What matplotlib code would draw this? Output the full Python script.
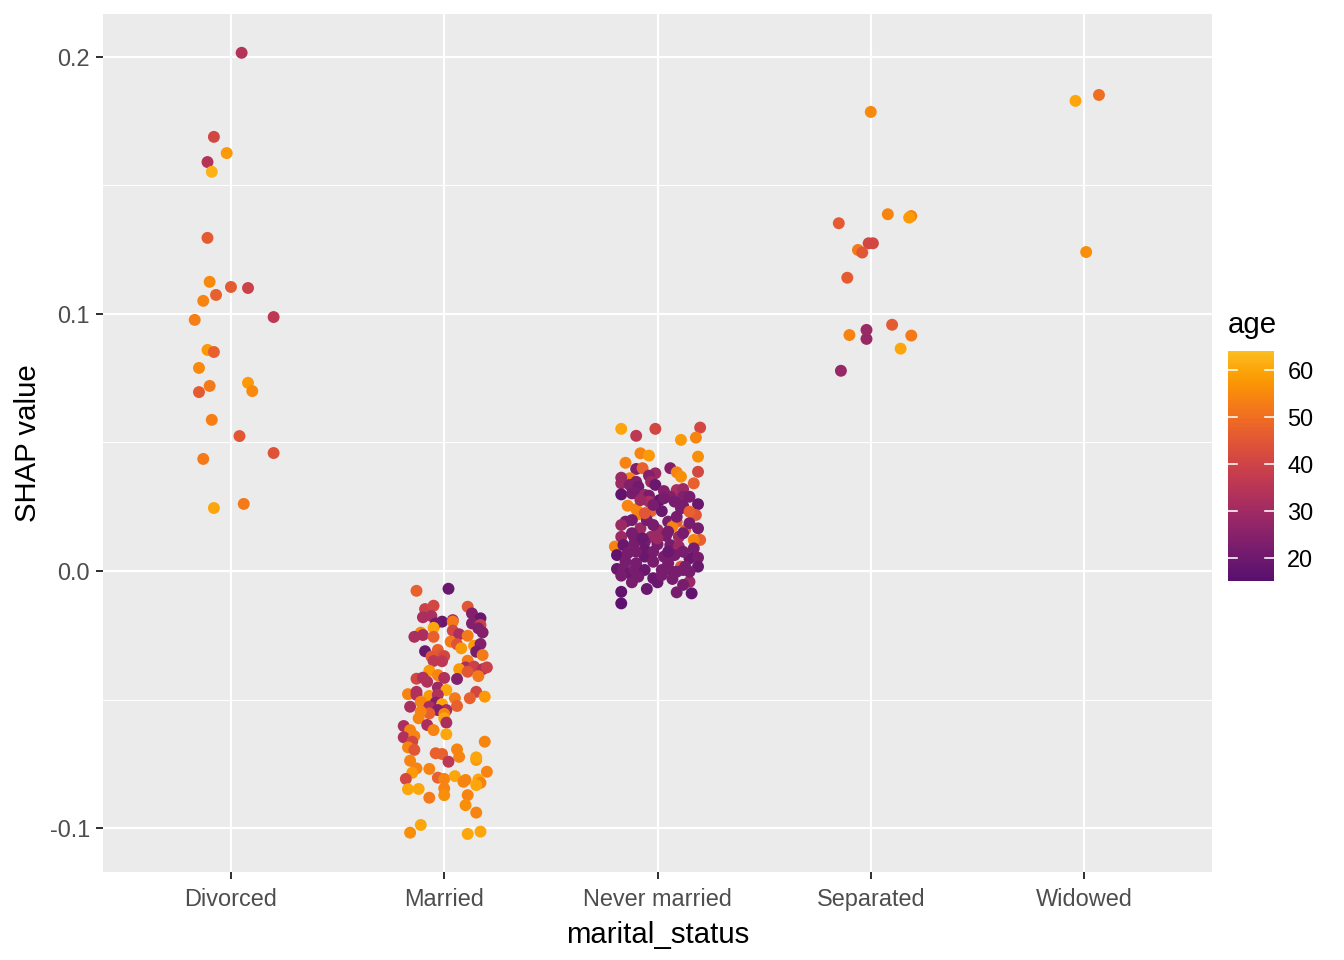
import numpy as np
import matplotlib.pyplot as plt
from matplotlib.colors import ListedColormap, Normalize

plt.rcParams['font.family'] = ['Liberation Sans', 'DejaVu Sans']

categories = ["Divorced", "Married", "Never married", "Separated", "Widowed"]
y_ticks = [-0.1, 0.0, 0.1, 0.2]
y_tick_labels = ["-0.1", "0.0", "0.1", "0.2"]
y_minor = [-0.05, 0.05, 0.15]
age_ticks = [20, 30, 40, 50, 60]
age_limits = [15, 64]

# values: SHAP value, horizontal jitter, age
divorced_shap = [0.2016, 0.1689, 0.1626, 0.1591, 0.1553, 0.1296, 0.1125, 0.1105, 0.1101, 0.1074,
                 0.1051, 0.0988, 0.0977, 0.0860, 0.0852, 0.0790, 0.0720, 0.0732, 0.0696, 0.0700,
                 0.0588, 0.0525, 0.0436, 0.0459, 0.0261, 0.0245]
divorced_jit = [0.05, -0.08, -0.02, -0.11, -0.09, -0.11, -0.10, 0.00, 0.08, -0.07,
                -0.13, 0.20, -0.17, -0.11, -0.08, -0.15, -0.10, 0.08, -0.15, 0.10,
                -0.09, 0.04, -0.13, 0.20, 0.06, -0.08]
divorced_age = [34, 41, 58, 34, 62, 46, 55, 46, 39, 47, 54, 36, 53, 58, 47, 55, 52, 58, 46, 55,
                53, 45, 52, 44, 52, 60]

married_shap = [-0.0077, -0.0069, -0.0148, -0.0135, -0.0139, -0.0180, -0.0175, -0.0197, -0.0204, -0.0191,
                -0.0197, -0.0165, -0.0184, -0.0204, -0.0210, -0.0223, -0.0239, -0.0221, -0.0240, -0.0256,
                -0.0249, -0.0256, -0.0232, -0.0246, -0.0252, -0.0275, -0.0285, -0.0301, -0.0291, -0.0284,
                -0.0314, -0.0327, -0.0312, -0.0307, -0.0333, -0.0327, -0.0331, -0.0350, -0.0351, -0.0349,
                -0.0375, -0.0372, -0.0382, -0.0392, -0.0382, -0.0375, -0.0388, -0.0405, -0.0409, -0.0419,
                -0.0415, -0.0431, -0.0416, -0.0420, -0.0453, -0.0463, -0.0479, -0.0470, -0.0482, -0.0486,
                -0.0482, -0.0470, -0.0495, -0.0489, -0.0495, -0.0509, -0.0512, -0.0518, -0.0528, -0.0528,
                -0.0525, -0.0541, -0.0541, -0.0554, -0.0547, -0.0556, -0.0573, -0.0573, -0.0590, -0.0599,
                -0.0603, -0.0619, -0.0619, -0.0647, -0.0642, -0.0635, -0.0664, -0.0686, -0.0696, -0.0664,
                -0.0694, -0.0723, -0.0709, -0.0712, -0.0742, -0.0735, -0.0725, -0.0738, -0.0768, -0.0785,
                -0.0770, -0.0781, -0.0809, -0.0804, -0.0809, -0.0798, -0.0820, -0.0813, -0.0811, -0.0824,
                -0.0833, -0.0849, -0.0848, -0.0846, -0.0872, -0.0872, -0.0882, -0.0911, -0.0940, -0.0988,
                -0.1018, -0.1023, -0.1014]
married_jit = [-0.13, 0.02, -0.09, -0.05, 0.11, -0.10, -0.06, -0.01, -0.04, 0.04,
               0.04, 0.13, 0.17, 0.13, 0.17, 0.16, 0.18, -0.05, -0.11, -0.14,
               -0.10, -0.05, 0.04, 0.07, 0.11, 0.03, 0.06, 0.08, 0.14, 0.17,
               0.15, 0.18, -0.09, -0.03, -0.06, -0.02, 0.00, -0.05, -0.01, 0.11,
               0.10, 0.14, 0.07, 0.11, 0.18, 0.20, -0.07, -0.03, 0.16, -0.13,
               -0.10, -0.08, 0.00, 0.06, -0.03, 0.01, -0.17, -0.13, -0.13, -0.07,
               -0.03, 0.15, 0.05, 0.19, 0.12, -0.11, -0.04, -0.01, -0.16, -0.07,
               0.06, 0.01, -0.03, -0.07, -0.11, 0.00, -0.12, 0.00, 0.01, -0.08,
               -0.19, -0.16, -0.05, -0.19, -0.14, 0.01, -0.15, -0.17, -0.14, 0.19,
               0.06, 0.07, -0.04, -0.01, 0.02, 0.15, 0.15, -0.16, -0.13, -0.15,
               -0.07, 0.20, -0.18, -0.03, 0.00, 0.05, 0.09, 0.10, 0.16, 0.17,
               0.15, -0.17, -0.12, 0.00, 0.00, 0.11, -0.07, 0.10, 0.15, -0.11,
               -0.16, 0.11, 0.17]
married_age = [47, 19, 39, 41, 45, 32, 32, 19, 21, 32,
               52, 24, 19, 24, 39, 24, 24, 60, 55, 32,
               32, 47, 41, 32, 52, 52, 44, 58, 58, 24,
               22, 52, 19, 47, 45, 45, 41, 36, 36, 52,
               32, 39, 58, 45, 33, 39, 58, 54, 52, 41,
               33, 33, 33, 24, 29, 60, 54, 33, 33, 58,
               33, 41, 52, 58, 47, 54, 24, 60, 32, 32,
               47, 32, 24, 47, 54, 54, 54, 60, 32, 32,
               32, 54, 54, 33, 54, 60, 41, 54, 45, 54,
               54, 54, 47, 47, 36, 58, 60, 54, 54, 58,
               54, 54, 41, 47, 54, 60, 54, 54, 60, 54,
               60, 60, 60, 54, 56, 54, 52, 56, 54, 60,
               56, 60, 60]

never_shap = [0.0553, 0.0526, 0.0553, 0.0558, 0.0510, 0.0519, 0.0458, 0.0449, 0.0421, 0.0445,
              0.0386, 0.0397, 0.0400, 0.0400, 0.0384, 0.0367, 0.0380, 0.0371, 0.0361, 0.0363,
              0.0341, 0.0335, 0.0347, 0.0328, 0.0347, 0.0335, 0.0341, 0.0311, 0.0315, 0.0319,
              0.0298, 0.0302, 0.0296, 0.0293, 0.0289, 0.0289, 0.0289, 0.0276, 0.0270, 0.0254,
              0.0254, 0.0260, 0.0241, 0.0221, 0.0233, 0.0233, 0.0244, 0.0218, 0.0231, 0.0192,
              0.0198, 0.0166, 0.0198, 0.0192, 0.0192, 0.0172, 0.0160, 0.0186, 0.0160, 0.0133,
              0.0147, 0.0133, 0.0137, 0.0133, 0.0121, 0.0121, 0.0095, 0.0101, 0.0104, 0.0112,
              0.0104, 0.0101, 0.0095, 0.0088, 0.0062, 0.0069, 0.0082, 0.0056, 0.0056, 0.0062,
              0.0049, 0.0052, 0.0036, 0.0030, 0.0036, 0.0030, 0.0017, 0.0017, 0.0017, 0.0008,
              0.0004, -0.0009, -0.0018, 0.0004, -0.0003, 0.0004, -0.0044, -0.0028, -0.0044, -0.0031,
              -0.0042, -0.0054, -0.0070, -0.0083, -0.0087, -0.0081, -0.0126,
              0.0133, 0.0127, 0.0179, 0.0127, 0.0153, 0.0147, 0.0166, 0.0075, 0.0075, 0.0075,
              0.0075, 0.0004, 0.0004, -0.0003, -0.0003, -0.0022, -0.0016, 0.0179, 0.0225, 0.0211,
              0.0302, 0.0283, 0.0276, 0.0270, 0.0257]
never_jit = [-0.17, -0.10, -0.01, 0.20, 0.11, 0.18, -0.08, -0.04, -0.15, 0.19,
             0.19, -0.10, -0.07, 0.06, 0.09, 0.11, -0.01, -0.04, -0.13, -0.17,
             -0.17, -0.13, -0.10, -0.09, -0.03, -0.01, 0.17, 0.03, 0.09, 0.12,
             -0.17, -0.10, -0.06, -0.04, 0.06, 0.12, 0.15, 0.01, -0.04, -0.14,
             0.12, 0.19, -0.10, -0.09, -0.03, 0.02, 0.11, 0.18, 0.15, -0.15,
             -0.12, -0.08, -0.05, 0.05, 0.09, 0.07, 0.13, 0.15, 0.00, -0.17,
             -0.12, -0.03, 0.04, 0.10, 0.20, 0.17, -0.20, -0.16, -0.11, -0.06,
             0.00, 0.06, 0.10, 0.17, -0.19, -0.14, -0.06, -0.06, 0.03, 0.08,
             0.15, 0.19, -0.15, -0.10, -0.02, 0.05, 0.11, 0.13, 0.19, -0.19,
             -0.16, -0.13, -0.17, 0.02, 0.07, 0.12, -0.12, -0.02, 0.00, 0.07,
             0.15, 0.12, -0.05, 0.09, 0.16, -0.17, -0.17,
             -0.11, -0.07, -0.02, 0.00, 0.05, 0.12, 0.19, -0.10, -0.02, 0.05,
             0.12, -0.11, -0.06, 0.09, 0.15, -0.09, 0.02, -0.17, -0.06, 0.09,
             -0.12, 0.03, -0.08, 0.08, -0.02]
never_age = [60, 36, 41, 41, 58, 54, 54, 58, 54, 56,
             41, 24, 47, 24, 54, 56, 29, 24, 54, 29,
             29, 24, 24, 21, 29, 19, 47, 24, 32, 29,
             17, 22, 29, 22, 24, 24, 22, 17, 32, 54,
             22, 19, 54, 54, 47, 19, 22, 45, 47, 22,
             22, 29, 22, 22, 47, 54, 47, 22, 29, 29,
             22, 29, 22, 29, 47, 54, 54, 19, 22, 22,
             22, 22, 29, 22, 17, 22, 19, 19, 22, 22,
             19, 22, 22, 22, 22, 22, 45, 22, 19, 19,
             22, 19, 22, 22, 22, 22, 22, 19, 19, 22,
             29, 22, 19, 22, 17, 17, 16,
             22, 19, 22, 29, 22, 22, 22, 22, 22, 19,
             22, 22, 19, 22, 22, 22, 22, 29, 45, 22,
             22, 22, 29, 22, 22]

separated_shap = [0.1786, 0.1353, 0.1388, 0.1381, 0.1375, 0.1275, 0.1275, 0.1249, 0.1239, 0.1141,
                  0.0918, 0.0938, 0.0903, 0.0958, 0.0916, 0.0865, 0.0779]
separated_jit = [0.00, -0.15, 0.08, 0.19, 0.18, -0.01, 0.01, -0.06, -0.04, -0.11,
                 -0.10, -0.02, -0.02, 0.10, 0.19, 0.14, -0.14]
separated_age = [55, 46, 54, 54, 58, 41, 41, 52, 45, 46, 54, 29, 28, 46, 52, 60, 28]

widowed_shap = [0.1829, 0.1852, 0.1241]
widowed_jit = [-0.04, 0.07, 0.01]
widowed_age = [60, 50, 56]

shap_by_status = [divorced_shap, married_shap, never_shap, separated_shap, widowed_shap]
jit_by_status = [divorced_jit, married_jit, never_jit, separated_jit, widowed_jit]
age_by_status = [divorced_age, married_age, never_age, separated_age, widowed_age]

# inferno, trimmed at both ends (like viridis option B with begin/end)
cmap = ListedColormap(plt.get_cmap('inferno')(np.linspace(0.25, 0.85, 256)))
norm = Normalize(vmin=age_limits[0], vmax=age_limits[1])

fig = plt.figure(figsize=(7, 5), dpi=192)
ax = fig.add_axes([103 / 1344, 88 / 960, 1109 / 1344, 858 / 960])
ax.set_facecolor('#EBEBEB')

for i in range(len(categories)):
    xs = i + np.array(jit_by_status[i])
    sc = ax.scatter(xs, shap_by_status[i], c=age_by_status[i], cmap=cmap, norm=norm,
                    s=20, edgecolors='none', zorder=3)

ax.set_xlim(-0.6, len(categories) - 0.4)
ax.set_ylim(-0.1171, 0.2167)

for y in y_minor:
    ax.axhline(y, color='white', lw=0.4, zorder=1)
for y in y_ticks:
    ax.axhline(y, color='white', lw=0.8, zorder=1)
for i in range(len(categories)):
    ax.axvline(i, color='white', lw=0.8, zorder=1)

ax.set_xticks(range(len(categories)))
ax.set_xticklabels(categories)
ax.set_yticks(y_ticks)
ax.set_yticklabels(y_tick_labels)
ax.tick_params(length=2.75, width=0.75, color='#333333', labelcolor='#4D4D4D',
               labelsize=8.8, pad=2.2)
ax.tick_params(axis='x', pad=3.3)
for sp in ax.spines.values():
    sp.set_visible(False)

ax.set_xlabel("marital_status", fontsize=11, labelpad=3.6)
ax.set_ylabel("SHAP value", fontsize=11, labelpad=2.75)

# colour bar legend
cax = fig.add_axes([1228 / 1344, (960 - 581) / 960, 46 / 1344, 230 / 960])
cb = fig.colorbar(sc, cax=cax)
cb.outline.set_visible(False)
cb.set_ticks(age_ticks)
cax.tick_params(length=0, labelsize=8.8, labelcolor='black', pad=5)
tr = cax.get_yaxis_transform()
for t in age_ticks:
    cax.plot([0, 0.2], [t, t], color='white', lw=0.6, transform=tr)
    cax.plot([0.8, 1], [t, t], color='white', lw=0.6, transform=tr)
fig.text(1228 / 1344, (960 - 333) / 960, "age", fontsize=11, va='baseline', ha='left')

fig.savefig('out.png', dpi=192)
